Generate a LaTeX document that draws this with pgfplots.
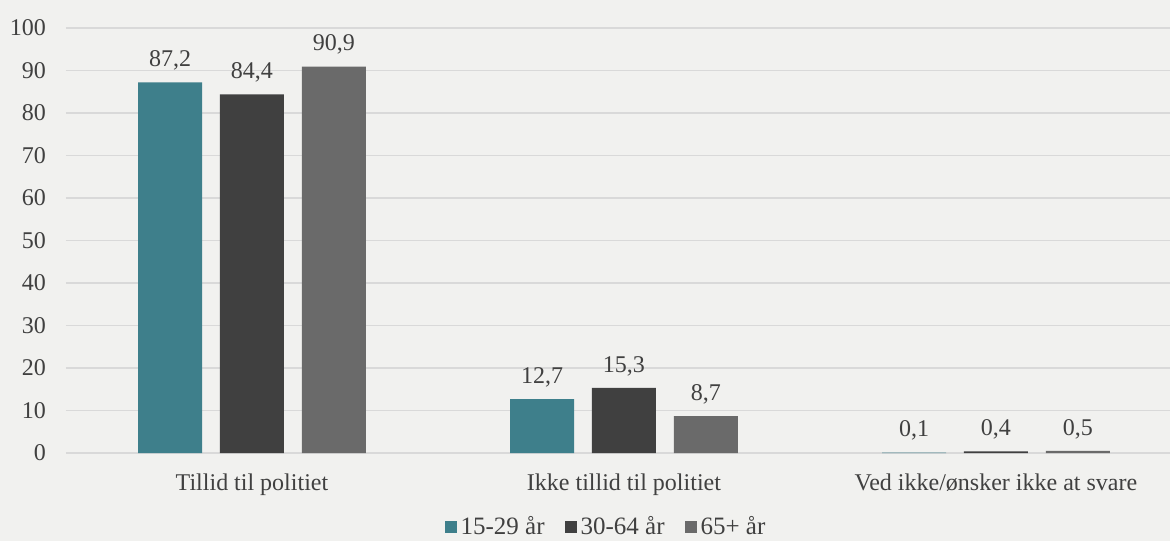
\documentclass[border=0pt]{standalone}
\usepackage{pgfplots}
\pgfplotsset{compat=1.18}
\usepackage{fontspec}
\setmainfont{Liberation Serif}
\definecolor{bg}{HTML}{F1F1EF}
\definecolor{gridc}{HTML}{D9D9D9}
\definecolor{cA}{HTML}{3E7F8B}
\definecolor{cB}{HTML}{404040}
\definecolor{cC}{HTML}{6A6A6A}
\definecolor{txt}{HTML}{404040}
\begin{document}
\begin{tikzpicture}
\fill[bg] (-33pt,-44pt) rectangle (552pt,226.5pt);
\begin{axis}[
  at={(0,0)}, anchor=south west,
  scale only axis,
  width=552pt, height=212.5pt,
  xmin=-0.5, xmax=2.468,
  ymin=0, ymax=100,
  ytick={0,10,...,100},
  xtick={0,1,2},
  xticklabels={Tillid til politiet, Ikke tillid til politiet, Ved ikke/ønsker ikke at svare},
  axis line style={draw=none},
  major tick length=0pt,
  ymajorgrids,
  grid style={gridc, line width=0.8pt},
  tick label style={font=\fontsize{12pt}{14pt}\selectfont, text=txt},
  /pgf/number format/assume math mode=true,
  yticklabel style={xshift=-6.5pt},
  xticklabel style={yshift=-7pt},
  ybar,
  bar width=0.172,
  nodes near coords,
  nodes near coords style={font=\fontsize{12pt}{14pt}\selectfont, text=txt, yshift=2.5pt, /pgf/number format/.cd, use comma, fixed, fixed zerofill, precision=1, assume math mode=true},
  legend style={at={(0.490,-0.174)}, anchor=center, legend columns=3, draw=none, fill=none, font=\fontsize{12.5pt}{14pt}\selectfont, text=txt, /tikz/every even column/.append style={column sep=8pt}},
  legend image code/.code={\fill[#1] (0pt,-3pt) rectangle (6pt,3pt);},
  clip=false,
]
\addplot[fill=cA, draw=none, bar shift=-0.22] coordinates {(0,87.2) (1,12.7) (2,0.1)};
\addplot[fill=cB, draw=none, bar shift=0] coordinates {(0,84.4) (1,15.3) (2,0.4)};
\addplot[fill=cC, draw=none, bar shift=0.22] coordinates {(0,90.9) (1,8.7) (2,0.5)};
\legend{15-29 år, 30-64 år, 65+ år}
\end{axis}
\pgfresetboundingbox
\path (-33pt,-44pt) rectangle (552pt,226.5pt);
\end{tikzpicture}
\end{document}
